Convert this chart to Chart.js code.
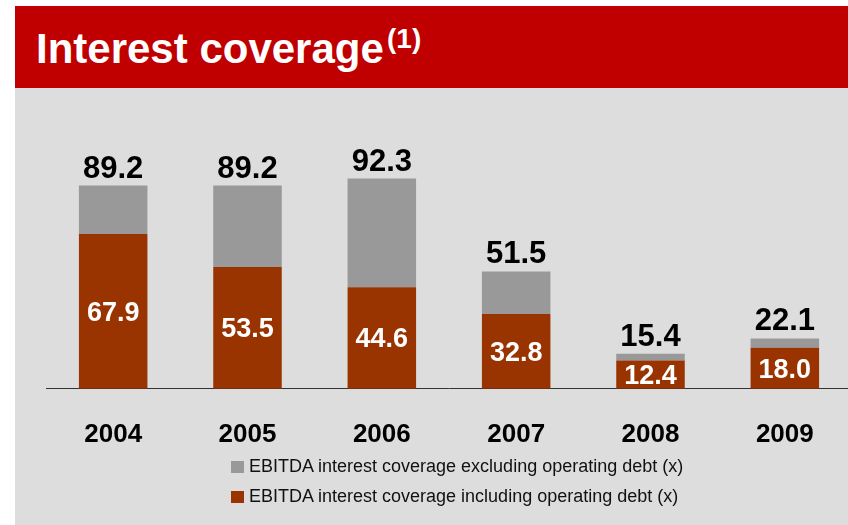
<!DOCTYPE html>
<html>
<head>
<meta charset="utf-8">
<script src="https://cdn.jsdelivr.net/npm/chart.js@4/dist/chart.umd.min.js"></script>
<style>
  body { margin: 0; width: 848px; height: 525px; background: #fff; position: relative; overflow: hidden;
         font-family: "Liberation Sans", Arial, sans-serif; }
  #header { position: absolute; left: 15px; top: 6px; width: 833px; height: 82px; background: #c00000; }
  #panel { position: absolute; left: 15px; top: 88px; width: 833px; height: 437px; background: #dddddd; }
  .title { position: absolute; color: #fff; font-weight: bold; white-space: nowrap; }
  #titleMain { left: 36px; top: 28px; font-size: 42px; line-height: 42px; }
  #titleSup { left: 387px; top: 25px; font-size: 28px; line-height: 28px; }
  #chartBox { position: absolute; left: 15px; top: 88px; width: 837px; height: 392px; }
  .legend-row { position: absolute; left: 231px; font-size: 18px; line-height: 18px; color: #111; white-space: nowrap; }
  .legend-row i { position: absolute; left: 0; width: 13px; height: 12px; }
  .legend-row span { position: absolute; left: 18px; }
</style>
</head>
<body>
<div id="header"></div>
<div id="panel"></div>
<div class="title" id="titleMain">Interest coverage</div>
<div class="title" id="titleSup">(1)</div>
<div id="chartBox"><canvas id="coverageChart" width="837" height="392"></canvas></div>
<div class="legend-row" id="legendExcl" style="top:457px"><i style="top:4px;background:#999999"></i><span>EBITDA interest coverage excluding operating debt (x)</span></div>
<div class="legend-row" id="legendIncl" style="top:487px"><i style="top:4px;background:#993300"></i><span>EBITDA interest coverage including operating debt (x)</span></div>
<script>
const years = ["2004", "2005", "2006", "2007", "2008", "2009"];
// coverage excluding operating debt (bar totals)
const coverageExcl = [89.2, 89.2, 92.3, 51.5, 15.4, 22.1];
// coverage including operating debt (lower segment)
const coverageIncl = [67.9, 53.5, 44.6, 32.8, 12.4, 18.0];

const brown = "#993300";
const grey = "#999999";

const upperPart = coverageExcl.map((v, i) => +(v - coverageIncl[i]).toFixed(1));

Chart.defaults.font.family = '"Liberation Sans", Arial, sans-serif';

const barLabels = {
  id: "barLabels",
  afterDatasetsDraw(chart) {
    const ctx = chart.ctx;
    const lower = chart.getDatasetMeta(0).data;
    const upper = chart.getDatasetMeta(1).data;
    ctx.save();
    ctx.textAlign = "center";
    lower.forEach((bar, i) => {
      ctx.font = 'bold 27px "Liberation Sans", Arial, sans-serif';
      ctx.fillStyle = "#ffffff";
      ctx.textBaseline = "middle";
      ctx.fillText(coverageIncl[i].toFixed(1), bar.x, (bar.y + bar.base) / 2 + 2);

      ctx.font = 'bold 31px "Liberation Sans", Arial, sans-serif';
      ctx.fillStyle = "#000000";
      ctx.textBaseline = "alphabetic";
      ctx.fillText(coverageExcl[i].toFixed(1), upper[i].x, upper[i].y - 8);
    });
    ctx.restore();
  }
};

new Chart(document.getElementById("coverageChart"), {
  type: "bar",
  data: {
    labels: years,
    datasets: [
      {
        label: "EBITDA interest coverage including operating debt (x)",
        data: coverageIncl,
        backgroundColor: brown,
        categoryPercentage: 1,
        barPercentage: 0.51
      },
      {
        label: "EBITDA interest coverage excluding operating debt (x)",
        data: upperPart,
        backgroundColor: grey,
        categoryPercentage: 1,
        barPercentage: 0.51
      }
    ]
  },
  options: {
    responsive: false,
    animation: false,
    layout: { padding: { left: 31, top: 73, right: 0, bottom: 0 } },
    plugins: {
      legend: { display: false },
      tooltip: { enabled: false }
    },
    scales: {
      x: {
        stacked: true,
        grid: { display: false, drawTicks: false, tickLength: 0 },
        border: { display: true, color: "#333333", width: 1 },
        ticks: {
          color: "#000000",
          padding: 30,
          font: { size: 26, weight: "bold" }
        }
      },
      y: {
        stacked: true,
        display: false,
        min: 0,
        max: 100
      }
    }
  },
  plugins: [barLabels]
});
</script>
</body>
</html>
